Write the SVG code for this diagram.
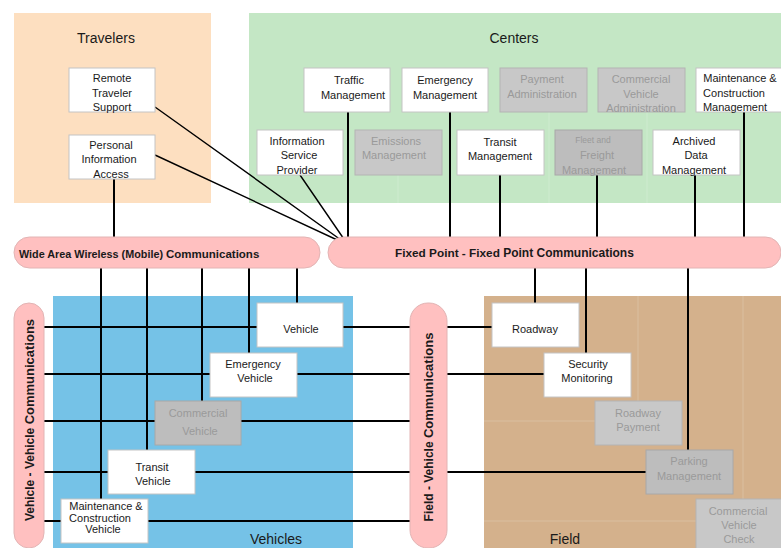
<svg xmlns="http://www.w3.org/2000/svg" width="781" height="548" viewBox="0 0 781 548">
<style>
text{font-family:"Liberation Sans",Arial,sans-serif;fill:#1a1a1a}
.t{font-size:11px;text-anchor:middle}
.g{font-size:11px;text-anchor:middle;fill:#9a9a9a}
.title{font-size:14px;text-anchor:middle}
.box{fill:#fff;stroke:#c4c4c4;stroke-width:1}
.gbox{fill:#c8c8c8;stroke:#b4b4b4;stroke-width:1}
.gbox2{fill:#bdbdbd;stroke:#a8a8a8;stroke-width:1}
.bar{fill:#ffc0c0;stroke:#e2b4b4;stroke-width:1}
.b{font-weight:bold}
.ln{stroke:#000;stroke-width:2;fill:none}
.dg{stroke:#000;stroke-width:1.4;fill:none}
.fa{stroke:#ffffff;stroke-opacity:0.18;stroke-width:1;fill:none}
</style>
<rect width="781" height="548" fill="#fff"/>
<!-- areas -->
<g id="travelers-area"><rect x="14" y="13" width="197" height="190" fill="#fddfc0"/><text class="title" x="106" y="43">Travelers</text></g>
<g id="centers-area"><rect x="249" y="13" width="532" height="190" fill="#c4e7c5"/><text class="title" x="514" y="43">Centers</text></g>
<g id="vehicles-area"><rect x="53" y="296" width="300" height="252" fill="#75c2e7"/><text class="title" x="276" y="544">Vehicles</text></g>
<g id="field-area"><rect x="484" y="296" width="297" height="252" fill="#d4b18c"/><text class="title" x="565" y="544">Field</text></g>

<!-- faint connectors -->
<g id="faint-connectors">
<path class="fa" d="M398 175V237M549 112V237M647 112V237M638 268V401M743 268V499M447 421H595M447 521H696"/>
</g>

<!-- connectors -->
<g id="connectors">
<path class="dg" d="M155 107L348 245M155 155L348 245M300 175L348 245"/>
<path class="ln" d="M114 179V240M348 112V240M450 112V240M500 175V240M597 175V240M695 175V240M744 112V240"/>
<path class="ln" d="M101 266V499M147 266V450M202 266V401M249 266V353M297 266V303"/>
<path class="ln" d="M535 266V303M586 266V353M688 266V450"/>
<path class="ln" d="M44 327H257M343 327H412M445 327H492"/>
<path class="ln" d="M44 374H210M297 374H412M445 374H544"/>
<path class="ln" d="M44 421H155M241 421H412"/>
<path class="ln" d="M44 472H108M195 472H412M445 472H646"/>
<path class="ln" d="M44 521H61M148 521H412"/>
</g>

<!-- bars -->
<g id="wide-area-wireless"><rect class="bar" x="14" y="237" width="306" height="31" rx="15.5"/>
<text class="b" x="19" y="258" font-size="10.8">Wide Area Wireless (Mobile)</text><text class="b" x="166" y="258" font-size="11.5">Communications</text></g>
<g id="fixed-point"><rect class="bar" x="328" y="237" width="453" height="31" rx="15.5"/>
<text class="b" x="395" y="257"><tspan font-size="11.8">Fixed Point - Fixed </tspan><tspan font-size="12">Point Communications</tspan></text></g>
<g id="vehicle-vehicle"><rect class="bar" x="14" y="303" width="30" height="245" rx="15"/>
<text class="b" transform="translate(34 420) rotate(-90)" text-anchor="middle"><tspan font-size="12">Vehicle - Vehicle </tspan><tspan font-size="13">Communications</tspan></text></g>
<g id="field-vehicle"><rect class="bar" x="410" y="303" width="37" height="245" rx="18"/>
<text class="b" transform="translate(433 427) rotate(-90)" text-anchor="middle"><tspan font-size="12">Field - Vehicle </tspan><tspan font-size="13">Communications</tspan></text></g>

<!-- travelers -->
<g id="remote-traveler-support"><rect class="box" x="69" y="68" width="86" height="44"/><text class="t" x="112"><tspan x="112" y="82">Remote</tspan><tspan x="112" y="97">Traveler</tspan><tspan x="112" y="111">Support</tspan></text></g>
<g id="personal-information-access"><rect class="box" x="69" y="135" width="86" height="44"/><text class="t"><tspan x="111" y="149">Personal</tspan><tspan x="109" y="163">Information</tspan><tspan x="111" y="178">Access</tspan></text></g>

<!-- centers -->
<g id="traffic-management"><rect class="box" x="304" y="68" width="86" height="44"/><text class="t"><tspan x="349" y="84">Traffic</tspan><tspan x="353" y="99">Management</tspan></text></g>
<g id="emergency-management"><rect class="box" x="402" y="68" width="86" height="44"/><text class="t"><tspan x="445" y="84">Emergency</tspan><tspan x="445" y="99">Management</tspan></text></g>
<g id="payment-administration"><rect class="gbox" x="500" y="68" width="87" height="44"/><text class="g"><tspan x="542" y="83">Payment</tspan><tspan x="542" y="98">Administration</tspan></text></g>
<g id="commercial-vehicle-administration"><rect class="gbox" x="598" y="68" width="87" height="44"/><text class="g"><tspan x="641" y="83">Commercial</tspan><tspan x="641" y="98">Vehicle</tspan><tspan x="641" y="112">Administration</tspan></text></g>
<g id="maintenance-construction-management"><rect class="box" x="696" y="68" width="90" height="44"/><text class="t" font-size="10.5"><tspan x="740" y="82">Maintenance &amp;</tspan><tspan x="734" y="97">Construction</tspan><tspan x="735" y="111">Management</tspan></text></g>
<g id="information-service-provider"><rect class="box" x="257" y="130" width="86" height="45"/><text class="t" font-size="10.5"><tspan x="297" y="145">Information</tspan><tspan x="299" y="159">Service</tspan><tspan x="297" y="174">Provider</tspan></text></g>
<g id="emissions-management"><rect class="gbox" x="355" y="130" width="87" height="45"/><text class="g" font-size="10.5"><tspan x="396" y="145">Emissions</tspan><tspan x="394" y="159">Management</tspan></text></g>
<g id="transit-management"><rect class="box" x="457" y="130" width="87" height="45"/><text class="t"><tspan x="500" y="146">Transit</tspan><tspan x="500" y="160">Management</tspan></text></g>
<g id="fleet-freight-management"><rect class="gbox2" x="555" y="130" width="87" height="45"/><text class="g" font-size="9.5"><tspan x="593" y="143" font-size="8.5">Fleet and</tspan><tspan x="597" y="159">Freight</tspan><tspan x="594" y="174">Management</tspan></text></g>
<g id="archived-data-management"><rect class="box" x="653" y="130" width="87" height="45"/><text class="t" font-size="10.5"><tspan x="694" y="145">Archived</tspan><tspan x="696" y="159">Data</tspan><tspan x="694" y="174">Management</tspan></text></g>

<!-- vehicles -->
<g id="vehicle"><rect class="box" x="257" y="303" width="86" height="44"/><text class="t" x="301" y="333">Vehicle</text></g>
<g id="emergency-vehicle"><rect class="box" x="210" y="353" width="87" height="44"/><text class="t"><tspan x="253" y="368">Emergency</tspan><tspan x="255" y="382">Vehicle</tspan></text></g>
<g id="commercial-vehicle"><rect class="gbox2" x="155" y="401" width="86" height="44"/><text class="g"><tspan x="198" y="417">Commercial</tspan><tspan x="200" y="435">Vehicle</tspan></text></g>
<g id="transit-vehicle"><rect class="box" x="108" y="450" width="87" height="44"/><text class="t"><tspan x="152" y="471">Transit</tspan><tspan x="153" y="485">Vehicle</tspan></text></g>
<g id="maintenance-construction-vehicle"><rect class="box" x="61" y="499" width="87" height="44"/><text class="t" font-size="10"><tspan x="106" y="510">Maintenance &amp;</tspan><tspan x="100" y="521.5">Construction</tspan><tspan x="103" y="533">Vehicle</tspan></text></g>

<!-- field -->
<g id="roadway"><rect class="box" x="492" y="303" width="87" height="44"/><text class="t" x="535" y="333">Roadway</text></g>
<g id="security-monitoring"><rect class="box" x="544" y="353" width="87" height="44"/><text class="t"><tspan x="588" y="368">Security</tspan><tspan x="587" y="382">Monitoring</tspan></text></g>
<g id="roadway-payment"><rect class="gbox" x="595" y="401" width="87" height="44"/><text class="g"><tspan x="638" y="417">Roadway</tspan><tspan x="638" y="431">Payment</tspan></text></g>
<g id="parking-management"><rect class="gbox2" x="646" y="450" width="87" height="44"/><text class="g"><tspan x="689" y="465">Parking</tspan><tspan x="689" y="480">Management</tspan></text></g>
<g id="commercial-vehicle-check"><rect class="gbox" x="696" y="499" width="90" height="52"/><text class="g"><tspan x="738" y="515">Commercial</tspan><tspan x="739" y="529">Vehicle</tspan><tspan x="739" y="543">Check</tspan></text></g>
</svg>
